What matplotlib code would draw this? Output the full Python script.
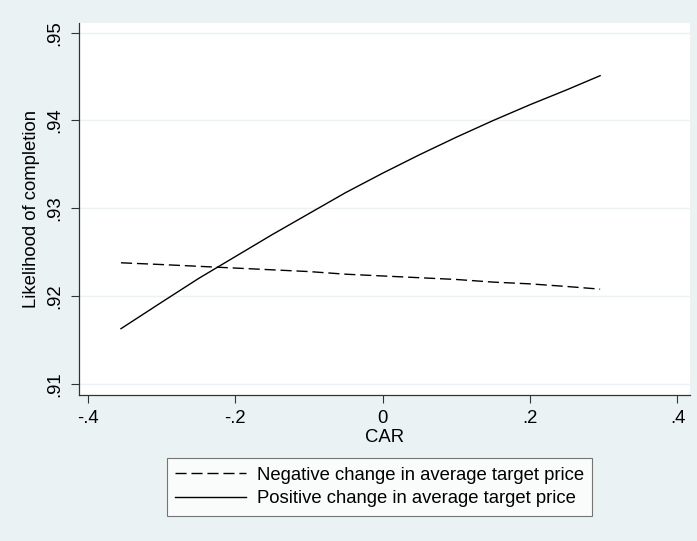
import matplotlib
matplotlib.use("Agg")
import matplotlib.pyplot as plt

# predicted likelihood of completion over CAR, by sign of target price change
car = [-0.355, -0.3, -0.25, -0.2, -0.15, -0.1, -0.05, 0.0, 0.05, 0.1, 0.15, 0.2, 0.25, 0.295]
neg_change = [0.9238, 0.9236, 0.9234, 0.9232, 0.9230, 0.9228, 0.9225, 0.9223,
              0.9221, 0.9219, 0.9216, 0.9214, 0.9211, 0.9208]
pos_change = [0.9163, 0.9193, 0.9220, 0.9245, 0.9270, 0.9294, 0.9318, 0.9340,
              0.9361, 0.9381, 0.9400, 0.9418, 0.9435, 0.9451]

xticks = [-0.4, -0.2, 0.0, 0.2, 0.4]
xticklabels = ["-.4", "-.2", "0", ".2", ".4"]
yticks = [0.91, 0.92, 0.93, 0.94, 0.95]
yticklabels = [".91", ".92", ".93", ".94", ".95"]

BG = "#EAF2F3"
FS = 13.3
plt.rcParams["font.family"] = ["Liberation Sans", "DejaVu Sans"]

fig = plt.figure(figsize=(6.97, 5.41), dpi=100, facecolor=BG)
ax = fig.add_axes([0.1133, 0.2699, 0.8767, 0.6876])
ax.set_facecolor("white")

ax.plot(car, neg_change, color="black", lw=1.0, ls=(0, (8, 3.5)),
        label="Negative change in average target price")
ax.plot(car, pos_change, color="black", lw=1.0, ls="-",
        label="Positive change in average target price")

ax.set_xlim(-0.412, 0.417)
ax.set_ylim(0.90875, 0.9511)
ax.set_xticks(xticks)
ax.set_xticklabels(xticklabels)
ax.set_yticks(yticks)
ax.set_yticklabels(yticklabels, rotation=90, va="center")

ax.grid(True, axis="y", color=BG, lw=1.0)
ax.set_axisbelow(True)
for side in ("top", "right"):
    ax.spines[side].set_visible(False)
for side in ("left", "bottom"):
    ax.spines[side].set_color("#333333")
    ax.spines[side].set_linewidth(0.9)

ax.tick_params(axis="both", direction="out", length=6, width=0.8,
               color="#333333", labelsize=FS, pad=5)
ax.set_xlabel("CAR", fontsize=FS, labelpad=1)
ax.set_ylabel("Likelihood of completion", fontsize=FS, labelpad=5)

leg = fig.legend(loc="center", bbox_to_anchor=(0.5445, 0.0998, 0, 0),
                 ncol=1, fontsize=FS, frameon=True, fancybox=False,
                 handlelength=3.85, handletextpad=0.6, borderpad=0.45,
                 labelspacing=0.35, borderaxespad=0)
leg.get_frame().set_edgecolor("#555555")
leg.get_frame().set_linewidth(0.8)
leg.get_frame().set_facecolor("white")

fig.savefig("out.png", dpi=100, facecolor=BG)
